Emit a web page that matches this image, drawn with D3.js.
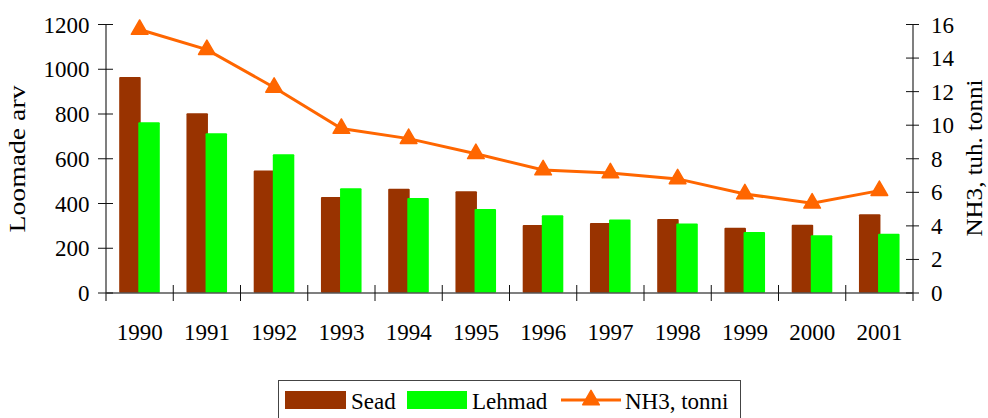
<!DOCTYPE html>
<html>
<head>
<meta charset="utf-8">
<script src="https://cdn.jsdelivr.net/npm/d3@7"></script>
<style>
  body { margin: 0; background: #fff; }
  svg { display: block; }
</style>
</head>
<body>
<div id="chart"></div>
<script>
const years = ['1990','1991','1992','1993','1994','1995','1996','1997','1998','1999','2000','2001'];
const sead = [965, 803, 547, 429, 466, 455, 304, 313, 331, 292, 305, 352];
const lehmad = [763, 714, 620, 468, 425, 375, 347, 329, 311, 273, 258, 265];
const nh3 = [15.7, 14.5, 12.25, 9.8, 9.2, 8.3, 7.33, 7.15, 6.8, 5.9, 5.35, 6.1];
const leftTicks = [0, 200, 400, 600, 800, 1000, 1200];
const rightTicks = [0, 2, 4, 6, 8, 10, 12, 14, 16];

const COLORS = { sead: '#993300', lehmad: '#00ff00', nh3: '#ff6600' };
const W = 988, H = 418;
const plotL = 106, plotR = 913, plotT = 24.5, plotB = 293;
const FS = 23;
const FONT = '"Liberation Serif", "Times New Roman", serif';

const svg = d3.select('#chart').append('svg')
  .attr('width', W).attr('height', H);

const x = d3.scaleBand().domain(years).range([plotL, plotR]).padding(0);
const yL = d3.scaleLinear().domain([0, 1200]).range([plotB, plotT]);
const yR = d3.scaleLinear().domain([0, 16]).range([plotB, plotT]);

const barW = 21.5;
const offS = 13.2, offL = 32.3;

// bars
svg.append('g').selectAll('rect.sead')
  .data(years).enter().append('rect')
  .attr('x', (d) => x(d) + offS)
  .attr('y', (d, i) => yL(sead[i]))
  .attr('width', barW)
  .attr('height', (d, i) => plotB - yL(sead[i]))
  .attr('rx', 1)
  .attr('fill', COLORS.sead);
svg.append('g').selectAll('rect.lehmad')
  .data(years).enter().append('rect')
  .attr('x', (d) => x(d) + offL)
  .attr('y', (d, i) => yL(lehmad[i]))
  .attr('width', barW)
  .attr('height', (d, i) => plotB - yL(lehmad[i]))
  .attr('rx', 1)
  .attr('fill', COLORS.lehmad);

// axes lines
const axisColor = '#555';
svg.append('line').attr('x1', plotL).attr('x2', plotL).attr('y1', plotT).attr('y2', plotB + 8)
  .attr('stroke', axisColor).attr('stroke-width', 1.5);
svg.append('line').attr('x1', plotR).attr('x2', plotR).attr('y1', plotT).attr('y2', plotB + 8)
  .attr('stroke', axisColor).attr('stroke-width', 1.5);
svg.append('line').attr('x1', plotL).attr('x2', plotR).attr('y1', plotB).attr('y2', plotB)
  .attr('stroke', axisColor).attr('stroke-width', 1.5);

// left ticks
const lt = svg.append('g');
lt.selectAll('line').data(leftTicks).enter().append('line')
  .attr('x1', plotL - 8).attr('x2', plotL + 7)
  .attr('y1', (d) => yL(d)).attr('y2', (d) => yL(d))
  .attr('stroke', '#111').attr('stroke-width', 1);
lt.selectAll('text').data(leftTicks).enter().append('text')
  .attr('x', plotL - 16.5).attr('y', (d) => yL(d) + 8)
  .attr('text-anchor', 'end')
  .attr('font-size', FS).text((d) => d);

// right ticks
const rt = svg.append('g');
rt.selectAll('line').data(rightTicks).enter().append('line')
  .attr('x1', plotR - 7).attr('x2', plotR + 6)
  .attr('y1', (d) => yR(d)).attr('y2', (d) => yR(d))
  .attr('stroke', '#111').attr('stroke-width', 1);
rt.selectAll('text').data(rightTicks).enter().append('text')
  .attr('x', plotR + 18).attr('y', (d) => yR(d) + 8)
  .attr('text-anchor', 'start')
  .attr('font-size', FS).text((d) => d);

// x ticks & labels
const xt = svg.append('g');
xt.selectAll('line').data(years.slice(1)).enter().append('line')
  .attr('x1', (d) => x(d)).attr('x2', (d) => x(d))
  .attr('y1', plotB - 8).attr('y2', plotB + 8)
  .attr('stroke', '#111').attr('stroke-width', 1);
xt.selectAll('text').data(years).enter().append('text')
  .attr('x', (d) => x(d) + x.bandwidth() / 2).attr('y', 340)
  .attr('text-anchor', 'middle').attr('font-size', FS).text((d) => d);

// axis titles
svg.append('text').attr('transform', 'translate(25,159) rotate(-90)')
  .attr('text-anchor', 'middle').attr('font-size', FS)
  .attr('textLength', 147).attr('lengthAdjust', 'spacingAndGlyphs')
  .text('Loomade arv');
svg.append('text').attr('transform', 'translate(982,158) rotate(-90)')
  .attr('text-anchor', 'middle').attr('font-size', FS)
  .attr('textLength', 157).attr('lengthAdjust', 'spacingAndGlyphs')
  .text('NH3, tuh. tonni');

// NH3 line
const line = d3.line().x((d, i) => x(years[i]) + x.bandwidth() / 2).y((d) => yR(d));
svg.append('path').datum(nh3).attr('d', line)
  .attr('fill', 'none').attr('stroke', COLORS.nh3).attr('stroke-width', 3);
const tri = d3.symbol().type(d3.symbolTriangle).size(120);
svg.append('g').selectAll('path').data(nh3).enter().append('path')
  .attr('d', tri)
  .attr('transform', (d, i) => `translate(${x(years[i]) + x.bandwidth() / 2},${yR(d)})`)
  .attr('fill', COLORS.nh3).attr('stroke', COLORS.nh3).attr('stroke-linejoin', 'round').attr('stroke-width', 1.5);

// legend
const lg = svg.append('g');
lg.append('rect').attr('x', 278.5).attr('y', 380.5).attr('width', 462).attr('height', 45)
  .attr('fill', 'none').attr('stroke', '#444').attr('stroke-width', 1);
lg.append('rect').attr('x', 285).attr('y', 391).attr('width', 61).attr('height', 18).attr('fill', COLORS.sead);
lg.append('text').attr('x', 351).attr('y', 409).attr('font-size', FS).text('Sead');
lg.append('rect').attr('x', 407).attr('y', 391).attr('width', 60).attr('height', 18).attr('fill', COLORS.lehmad);
lg.append('text').attr('x', 472).attr('y', 409).attr('font-size', FS).text('Lehmad');
lg.append('line').attr('x1', 561).attr('x2', 621).attr('y1', 400).attr('y2', 400)
  .attr('stroke', COLORS.nh3).attr('stroke-width', 3);
lg.append('path').attr('d', tri).attr('transform', 'translate(591,400)')
  .attr('fill', COLORS.nh3).attr('stroke', COLORS.nh3).attr('stroke-linejoin', 'round').attr('stroke-width', 1.5);
lg.append('text').attr('x', 625).attr('y', 409).attr('font-size', FS).text('NH3, tonni');

// serif font on every text
svg.selectAll('text').style('font-family', FONT).attr('fill', '#000');
</script>
</body>
</html>
